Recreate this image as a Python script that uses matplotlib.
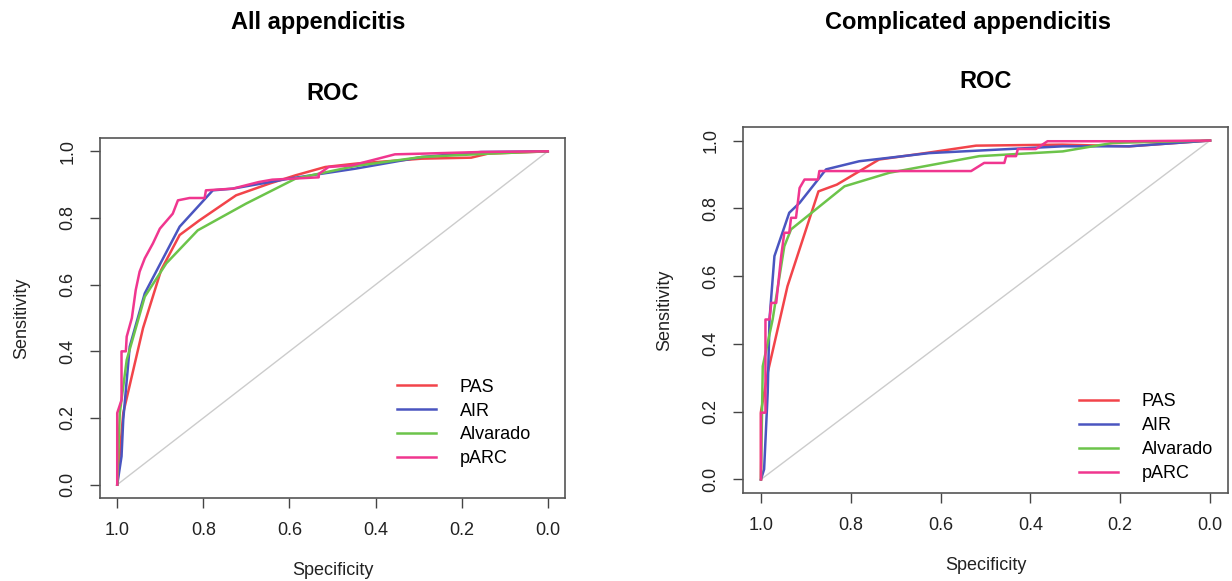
import matplotlib
matplotlib.use('Agg')
import matplotlib.pyplot as plt

plt.rcParams['font.family'] = ['Liberation Sans', 'DejaVu Sans']

# ---- All appendicitis (specificity, sensitivity) ----
all_pas_spec = [1.0, 0.986, 0.94, 0.898, 0.855, 0.809, 0.724, 0.647, 0.586, 0.517, 0.447, 0.293, 0.178, 0.139, 0.0]
all_pas_sens = [0.0, 0.215, 0.47, 0.644, 0.749, 0.793, 0.868, 0.903, 0.928, 0.953, 0.963, 0.978, 0.981, 0.993, 1.0]

all_air_spec = [1.0, 0.99, 0.986, 0.971, 0.936, 0.855, 0.778, 0.732, 0.601, 0.447, 0.293, 0.155, 0.0]
all_air_sens = [0.0, 0.085, 0.195, 0.414, 0.574, 0.774, 0.883, 0.888, 0.918, 0.948, 0.983, 0.998, 1.0]

all_alv_spec = [1.0, 0.994, 0.978, 0.936, 0.886, 0.813, 0.701, 0.586, 0.447, 0.293, 0.139, 0.0]
all_alv_sens = [0.0, 0.215, 0.374, 0.564, 0.664, 0.763, 0.843, 0.918, 0.956, 0.983, 0.993, 1.0]

all_parc_spec = [1.0, 1.0, 0.99, 0.99, 0.98, 0.978, 0.966, 0.957, 0.948, 0.936, 0.917, 0.901, 0.871, 0.859,
                 0.832, 0.797, 0.794, 0.732, 0.671, 0.64, 0.532, 0.532, 0.509, 0.455, 0.409, 0.355, 0.293, 0.155, 0.0]
all_parc_sens = [0.0, 0.215, 0.254, 0.4, 0.4, 0.444, 0.5, 0.584, 0.639, 0.679, 0.724, 0.768, 0.813, 0.853,
                 0.86, 0.86, 0.883, 0.888, 0.908, 0.915, 0.922, 0.932, 0.953, 0.958, 0.973, 0.991, 0.993, 0.998, 1.0]

# ---- Complicated appendicitis ----
cmp_pas_spec = [1.0, 1.0, 0.985, 0.941, 0.872, 0.831, 0.737, 0.634, 0.521, 0.328, 0.18, 0.0]
cmp_pas_sens = [0.0, 0.2, 0.315, 0.57, 0.85, 0.87, 0.944, 0.963, 0.985, 0.988, 0.983, 1.0]

cmp_air_spec = [1.0, 0.993, 0.985, 0.981, 0.97, 0.937, 0.914, 0.855, 0.781, 0.625, 0.328, 0.18, 0.0]
cmp_air_sens = [0.0, 0.03, 0.256, 0.472, 0.659, 0.787, 0.816, 0.915, 0.939, 0.963, 0.983, 0.983, 1.0]

cmp_alv_spec = [1.0, 0.996, 0.974, 0.948, 0.933, 0.814, 0.714, 0.514, 0.328, 0.217, 0.0]
cmp_alv_sens = [0.0, 0.334, 0.472, 0.688, 0.738, 0.865, 0.905, 0.954, 0.968, 0.993, 1.0]

cmp_parc_spec = [1.0, 1.0, 0.99, 0.99, 0.981, 0.977, 0.966, 0.955, 0.948, 0.937, 0.933, 0.922, 0.914, 0.903,
                 0.873, 0.87, 0.532, 0.503, 0.458, 0.454, 0.432, 0.428, 0.388, 0.362, 0.18, 0.0]
cmp_parc_sens = [0.0, 0.197, 0.197, 0.472, 0.472, 0.521, 0.521, 0.659, 0.728, 0.728, 0.772, 0.772, 0.86, 0.885,
                 0.885, 0.91, 0.91, 0.934, 0.934, 0.954, 0.954, 0.975, 0.975, 0.998, 0.998, 1.0]

labels = ['PAS', 'AIR', 'Alvarado', 'pARC']
colors = ['#f2444a', '#4a55c0', '#6cc44a', '#f0368f']
ticks = [1.0, 0.8, 0.6, 0.4, 0.2, 0.0]

fig = plt.figure(figsize=(12.32, 5.81), dpi=100)
ax1 = fig.add_axes([100/1232, 1-498/581, 465/1232, 360/581])
ax2 = fig.add_axes([743/1232, 1-493/581, 485/1232, 366/581])

panels = [
    (ax1, [(all_pas_spec, all_pas_sens), (all_air_spec, all_air_sens),
           (all_alv_spec, all_alv_sens), (all_parc_spec, all_parc_sens)], (0.962, 0.04)),
    (ax2, [(cmp_pas_spec, cmp_pas_sens), (cmp_air_spec, cmp_air_sens),
           (cmp_alv_spec, cmp_alv_sens), (cmp_parc_spec, cmp_parc_sens)], (1.003, -0.014)),
]

for ax, curves, anchor in panels:
    ax.plot([1, 0], [0, 1], color='#cccccc', lw=1.0, zorder=1)
    for (sx, sy), lab, c in zip(curves, labels, colors):
        ax.plot(sx, sy, color=c, lw=1.8, label=lab, zorder=3)
    ax.set_xlim(1.04, -0.04)
    ax.set_ylim(-0.04, 1.04)
    ax.set_xticks(ticks)
    ax.set_xticklabels([f'{t:.1f}' for t in ticks])
    ax.set_yticks(ticks)
    ax.set_yticklabels([f'{t:.1f}' for t in ticks], rotation=90, va='center')
    ax.tick_params(direction='out', length=7, width=1.0, colors='#444444',
                   labelcolor='#222222', labelsize=13, pad=10)
    for sp in ax.spines.values():
        sp.set_color('#555555')
        sp.set_linewidth(1.2)
    ax.set_xlabel('Specificity', fontsize=13, color='#222222', labelpad=17)
    ax.set_ylabel('Sensitivity', fontsize=13, color='#222222', labelpad=21)
    ax.legend(loc='lower right', bbox_to_anchor=anchor, frameon=False,
              fontsize=13, handlelength=2.2, handletextpad=1.3, labelspacing=0.38)

title_font = ['Liberation Sans Narrow', 'Liberation Sans', 'DejaVu Sans']
fig.text(318/1232, 1-22/581, 'All appendicitis', ha='center', va='center',
         fontsize=17, fontweight='bold', family=title_font)
fig.text(333/1232, 1-93/581, 'ROC', ha='center', va='center',
         fontsize=17, fontweight='bold', family=title_font)
fig.text(968/1232, 1-22/581, 'Complicated appendicitis', ha='center', va='center',
         fontsize=17, fontweight='bold', family=title_font)
fig.text(986/1232, 1-82/581, 'ROC', ha='center', va='center',
         fontsize=17, fontweight='bold', family=title_font)

fig.savefig('out.png', dpi=100)
